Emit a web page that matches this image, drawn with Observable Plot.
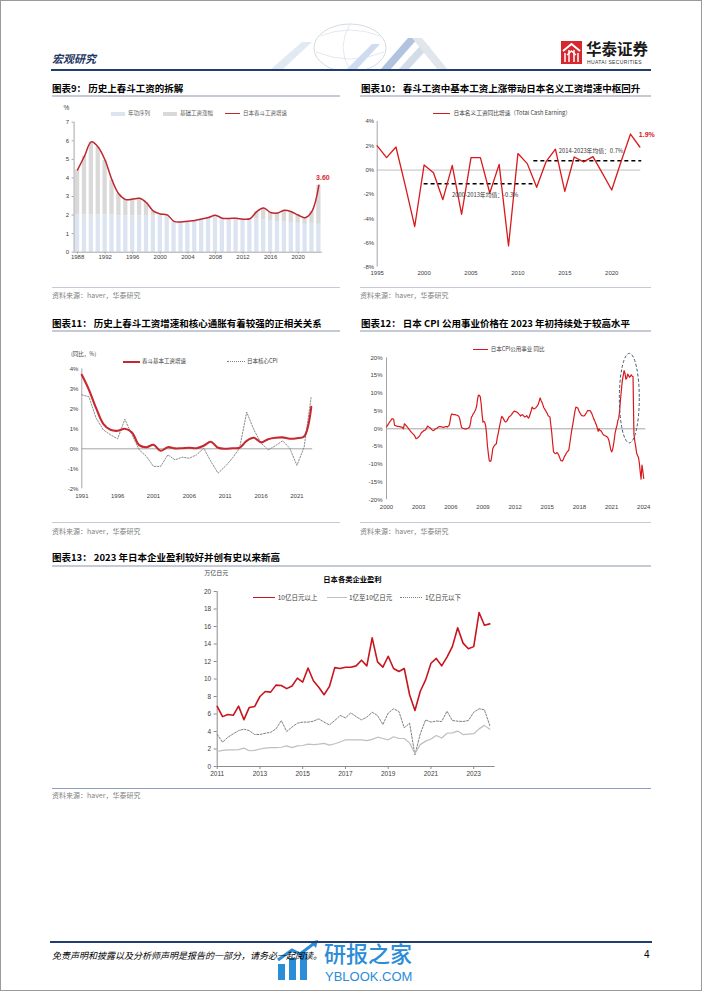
<!DOCTYPE html>
<html><head><meta charset="utf-8">
<script src="https://cdn.jsdelivr.net/npm/d3@7"></script>
<script src="https://cdn.jsdelivr.net/npm/@observablehq/plot@0.6"></script>
<style>
html,body{margin:0;padding:0;background:#fff}
#page{position:relative;width:702px;height:991px;overflow:hidden;font-family:"Noto Sans CJK SC","Noto Sans",sans-serif;color:#000;background:#fff}
#frame{position:absolute;left:0;top:0;width:700px;height:989px;border:1px solid #9a9a9a}
.t{position:absolute;white-space:nowrap;line-height:1}
.b{position:absolute}
</style></head><body><div id="page"><div id="frame"></div>
<svg class="b" style="left:262px;top:22px" width="200" height="48">
  <ellipse cx="88" cy="26" rx="36" ry="24" fill="none" stroke="#d5dbe3" stroke-width="1"/>
  <path d="M58 14 Q88 2 118 14 M54 30 Q88 44 122 30 M88 2 Q74 26 88 48" fill="none" stroke="#dde2e8" stroke-width="0.8"/>
  <polygon points="8,48 40,20 50,20 20,48" fill="#e3e9f3"/>
  <polygon points="84,48 110,22 118,22 94,48" fill="#cfdcf0"/>
  <polygon points="118,48 146,16 156,16 128,48" fill="#9fb4d8" opacity="0.8"/>
  <polygon points="136,48 158,24 168,24 146,48" fill="#c9d3e2" opacity="0.8"/>
  <polygon points="150,16 160,16 186,48 176,48" fill="#e1e5ec"/>
</svg>
<svg class="b" style="left:561px;top:41px" width="21" height="23">
  <rect width="21" height="23" fill="#d7282f"/>
  <path d="M2 10 L10.5 3 L19 10" stroke="#fff" fill="none" stroke-width="2"/>
  <path d="M4 21 V12 M8 21 V9 M13 21 V9 M17 21 V12" stroke="#fff" stroke-width="1.5"/>
  <path d="M6 14 L10.5 10 L15 14" stroke="#fff" fill="none" stroke-width="1.4"/>
</svg>
<svg class="b" style="left:276px;top:940px" width="46" height="42">
  <rect x="2" y="24" width="7" height="16" fill="#2b8cd8"/>
  <rect x="13" y="18" width="7" height="22" fill="#2b8cd8"/>
  <rect x="24" y="12" width="7" height="28" fill="#2b8cd8"/>
  <path d="M2 20 L16 10 L24 14 L40 2" stroke="#2b8cd8" stroke-width="3" fill="none"/>
  <polygon points="42,0 34,2 40,8" fill="#2b8cd8"/>
</svg>
</div>
<script>
// ---------------- DATA ----------------
// Chart 9: 春斗工资拆解
const springYears = [1988,1989,1990,1991,1992,1993,1994,1995,1996,1997,1998,1999,2000,2001,2002,2003,2004,2005,2006,2007,2008,2009,2010,2011,2012,2013,2014,2015,2016,2017,2018,2019,2020,2021,2022,2023];
const springTotal = [4.43,5.17,5.94,5.65,4.95,3.89,3.13,2.83,2.86,2.90,2.66,2.21,2.06,2.01,1.66,1.63,1.67,1.71,1.79,1.87,1.99,1.83,1.82,1.83,1.78,1.80,2.19,2.38,2.14,2.11,2.26,2.18,2.00,1.86,2.20,3.60];
const springSeniority = [2.0,2.0,2.0,2.0,2.0,2.0,1.95,1.95,1.95,1.95,1.95,1.95,1.95,1.9,1.66,1.63,1.67,1.71,1.79,1.87,1.95,1.83,1.82,1.83,1.78,1.80,1.8,1.75,1.7,1.65,1.65,1.6,1.55,1.5,1.55,1.5];
const springYTicks = [0,1,2,3,4,5,6,7];
const springXTicks = [1988,1992,1996,2000,2004,2008,2012,2016,2020];

// Chart 10: 名义工资同比
const tceYears = [1995,1996,1997,1998,1999,2000,2001,2002,2003,2004,2005,2006,2007,2008,2009,2010,2011,2012,2013,2014,2015,2016,2017,2018,2019,2020,2021,2022,2023];
const tceValues = [2.0,1.03,1.9,-1.3,-4.65,0.42,-0.22,-2.44,0.39,-3.64,1.03,1.03,-1.89,0.47,-6.25,1.36,0.53,-1.42,0.69,1.72,-1.75,1.08,0.67,1.11,-0.25,-1.64,0.7,2.97,1.9];
const avgText = ["2000-2013年均值：-0.3%","2014-2023年均值：0.7%"];
const avgStart = [2000, 2011.7];
const avgEnd = [2011.6, 2023.2];
const avgValue = [-1.12, 0.77];
const tceYTicks = [-8,-6,-4,-2,0,2,4];
const tceXTicks = [1995,2000,2005,2010,2015,2020];

// Chart 11: 春斗基本工资 vs 核心CPI
const cpiYears = [1991,1992,1993,1994,1995,1996,1997,1998,1999,2000,2001,2002,2003,2004,2005,2006,2007,2008,2009,2010,2011,2012,2013,2014,2015,2016,2017,2018,2019,2020,2021,2022,2023];
const baseUp = [3.7,2.95,2.03,1.25,0.95,0.9,1.0,0.82,0.18,0.08,0.2,-0.1,0.08,0.02,0.03,0.05,0.03,0.15,0.35,0.05,0.0,0.03,0.05,0.4,0.55,0.32,0.48,0.55,0.57,0.5,0.53,0.62,2.1];
const coreCPI = [2.7,2.6,1.53,0.95,0.7,0.5,1.48,0.7,-0.05,-0.38,-0.88,-0.88,-0.3,-0.55,-0.42,-0.47,-0.3,0.03,-0.63,-1.22,-0.88,-0.47,0.03,1.83,0.95,0.28,-0.05,0.15,0.4,0.03,-0.83,0.08,2.62];
const cpiYTicks = [-2,-1,0,1,2,3,4];
const cpiXTicks = [1991,1996,2001,2006,2011,2016,2021];

// Chart 12: CPI 公用事业 同比 (monthly, rows = years 2000..2024)
const utilYears = [2000,2001,2002,2003,2004,2005,2006,2007,2008,2009,2010,2011,2012,2013,2014,2015,2016,2017,2018,2019,2020,2021,2022,2023,2024];
const utilMonthly = [
[0.5,0.9,1.3,1.7,2.1,2.4,2.8,2.8,2.7,1.0,0.9,0.8],
[0.7,0.7,0.6,0.6,0.5,0.5,0.3,0.0,1.4,1.2,0.9,0.6],
[0.3,-0.1,-0.4,-0.7,-1.0,-1.3,-1.5,-1.8,-2.2,-2.8,-2.7,-2.5],
[-2.3,-2.0,-1.6,-1.1,-0.9,-0.7,-0.5,-0.4,-0.2,0.3,0.75,0.6],
[0.4,0.2,0.0,-0.3,-0.5,-0.4,-0.2,0.0,0.1,0.3,0.5,0.6],
[0.65,0.6,0.5,0.5,0.4,0.5,0.6,0.65,0.5,0.7,0.9,1.9],
[3.5,4.2,4.1,4.0,4.0,4.0,3.9,3.8,3.7,3.5,2.8,1.5],
[0.4,0.2,0.1,0.0,0.0,0.0,0.0,0.1,0.3,0.5,1.5,3.3],
[3.6,4.2,4.5,5.0,5.6,6.5,8.5,9.5,9.4,9.0,7.0,4.0],
[1.9,2.1,1.8,0.9,-1.5,-4.7,-7.0,-8.9,-9.2,-9.0,-7.5,-5.6],
[-5.0,-4.7,-4.4,-4.2,-2.5,-1.4,0.0,1.2,2.5,3.5,3.2,2.8],
[2.3,1.9,2.0,2.3,2.8,3.3,3.5,3.7,4.0,4.4,4.7,5.0],
[4.9,4.8,4.7,4.5,4.2,4.0,3.6,3.8,4.0,3.8,3.5,3.3],
[3.5,3.7,3.3,3.0,3.5,4.3,5.1,6.1,5.8,5.6,5.7,5.9],
[6.2,6.5,7.0,7.8,8.7,8.0,7.5,6.8,6.0,5.6,5.2,4.7],
[4.3,3.7,3.5,3.3,1.0,-1.1,-4.0,-6.5,-6.8,-7.0,-6.9,-6.7],
[-7.0,-7.5,-8.2,-8.9,-9.0,-9.1,-8.6,-7.9,-7.5,-7.0,-6.6,-6.3],
[-6.1,-4.5,-2.8,-1.0,0.5,1.9,3.5,5.0,6.1,6.0,5.9,5.3],
[4.7,4.3,3.9,3.7,3.6,3.6,3.8,4.2,4.6,5.1,5.1,5.1],
[5.1,4.7,4.2,3.5,2.8,2.3,1.6,1.1,0.2,-0.7,0.0,-0.5],
[-0.5,-0.9,-1.4,-1.7,-1.9,-2.0,-2.1,-2.3,-2.6,-3.3,-4.5,-5.8],
[-6.5,-6.0,-4.7,-3.0,-1.1,0.0,0.9,2.3,3.0,5.1,8.4,11.0],
[13.5,15.0,16.4,15.6,14.0,14.3,15.4,15.0,14.5,14.8,15.2,14.8],
[14.7,-1.5,-3.5,-5.0,-6.8,-7.5,-8.0,-9.5,-12.0,-14.2,-10.2,-12.0],
[-14.0]
];
const utilYTicks = [-20,-15,-10,-5,0,5,10,15,20];
const utilXTicks = [2000,2003,2006,2009,2012,2015,2018,2021,2024];
const highlightX = 2022.7, highlightY = 8.5, highlightRX = 0.93, highlightRY = 12.6;

// Chart 13: 日本各类企业盈利 (万亿日元, quarterly)
const profitQuarters = ["2011Q1","2011Q2","2011Q3","2011Q4","2012Q1","2012Q2","2012Q3","2012Q4","2013Q1","2013Q2","2013Q3","2013Q4","2014Q1","2014Q2","2014Q3","2014Q4","2015Q1","2015Q2","2015Q3","2015Q4","2016Q1","2016Q2","2016Q3","2016Q4","2017Q1","2017Q2","2017Q3","2017Q4","2018Q1","2018Q2","2018Q3","2018Q4","2019Q1","2019Q2","2019Q3","2019Q4","2020Q1","2020Q2","2020Q3","2020Q4","2021Q1","2021Q2","2021Q3","2021Q4","2022Q1","2022Q2","2022Q3","2022Q4","2023Q1","2023Q2","2023Q3","2023Q4"];
const profitLarge = [6.86,5.7,5.95,5.85,6.9,5.35,6.75,6.85,8.0,8.57,8.5,9.3,9.25,8.9,9.2,10.1,9.65,11.25,9.8,9.05,8.2,9.15,11.3,11.2,11.35,11.35,11.5,12.15,11.5,14.7,11.95,11.35,12.6,11.2,10.85,11.2,8.2,6.4,8.6,9.9,11.8,12.35,11.5,12.5,13.7,15.85,14.1,13.45,13.7,17.6,16.15,16.3];
const profitMid = [1.71,1.85,1.9,1.9,1.93,2.1,1.8,1.85,2.0,2.1,2.15,2.15,2.2,2.35,2.15,2.35,2.4,2.55,2.5,2.55,2.65,2.45,2.6,2.8,3.05,3.05,3.05,3.05,2.95,3.1,3.35,3.2,3.05,3.4,3.2,3.2,2.7,1.5,2.5,2.9,3.15,3.55,3.25,3.8,3.85,4.05,3.65,3.7,3.75,4.3,4.7,4.25];
const profitSmall = [3.66,2.78,3.35,3.73,4.1,4.27,4.1,3.66,3.66,3.8,3.9,4.3,5.25,4.0,4.5,4.95,5.07,5.07,5.18,5.45,5.07,4.76,5.25,5.83,5.56,6.13,5.7,5.33,5.64,6.2,5.83,4.8,6.1,6.6,6.29,4.42,4.95,1.33,3.73,5.33,5.07,5.2,5.14,6.32,5.25,5.18,5.14,5.25,6.2,6.6,6.48,4.69];
const profitYTicks = [0,2,4,6,8,10,12,14,16,18,20];
const profitXTicks = [2011,2013,2015,2017,2019,2021,2023];

// ---------------- HELPERS ----------------
const page = document.getElementById("page");
function txt(s, x, y, size, opts = {}) {
  const d = document.createElement("div");
  d.className = "t";
  d.textContent = s;
  d.style.left = x + "px";
  d.style.top = (y - size / 2) + "px";
  d.style.fontSize = size + "px";
  Object.assign(d.style, opts);
  page.appendChild(d);
  return d;
}
function bar(x1, x2, y, h, color) {
  const d = document.createElement("div");
  d.className = "b";
  d.style.left = x1 + "px"; d.style.width = (x2 - x1) + "px";
  d.style.top = (y - h / 2) + "px"; d.style.height = h + "px";
  d.style.background = color;
  page.appendChild(d);
}
function lineSw(x1, x2, y, w, color, kind = "solid") {
  const d = document.createElement("div");
  d.className = "b";
  d.style.left = x1 + "px"; d.style.width = (x2 - x1) + "px";
  d.style.top = (y - w / 2) + "px"; d.style.height = "0px";
  d.style.borderTop = `${w}px ${kind} ${color}`;
  page.appendChild(d);
}
function mount(svg, left, top) {
  svg.style.position = "absolute";
  svg.style.left = left + "px";
  svg.style.top = top + "px";
  page.appendChild(svg);
}
const baseStyle = {fontFamily: "'Liberation Sans', Arial, sans-serif", fontSize: "6px", color: "#404040", background: "transparent", overflow: "visible"};
const AX = "#a6a6a6";
const CJK = "'Noto Sans CJK SC', sans-serif";
const SRC = "资料来源：haver，华泰研究";

// ---------------- PAGE TEXT ----------------
txt("宏观研究", 52, 58, 11, {fontWeight: "700", fontStyle: "italic", color: "#1f3864"});
bar(51, 651, 69.5, 2, "#1f3d6e");
txt("华泰证券", 586, 49, 15.5, {fontWeight: "700", color: "#1a1a1a"});
txt("HUATAI SECURITIES", 587, 62, 5, {fontFamily: "'Liberation Sans',Arial,sans-serif", color: "#333", letterSpacing: "0.35px"});

const titleStyle = {fontWeight: "700", color: "#000"};
const TL = "#c4cbd7";
txt("图表9：  历史上春斗工资的拆解", 52, 88.5, 9.5, titleStyle);
bar(52, 340, 96, 1.5, TL);
txt("图表10：  春斗工资中基本工资上涨带动日本名义工资增速中枢回升", 361, 88.5, 9.5, titleStyle);
bar(360, 651, 96, 1.5, TL);
txt("图表11：  历史上春斗工资增速和核心通胀有着较强的正相关关系", 52, 324, 9.5, titleStyle);
bar(52, 340, 331, 1.5, TL);
txt("图表12：  日本 CPI 公用事业价格在 2023 年初持续处于较高水平", 361, 324, 9.5, titleStyle);
bar(360, 651, 331, 1.5, TL);
txt("图表13：  2023 年日本企业盈利较好并创有史以来新高", 52, 558, 9.5, titleStyle);
bar(52, 651, 566, 1.5, TL);

const srcStyle = {color: "#7f7f7f"};
bar(52, 340, 287.5, 1, TL); txt(SRC, 52, 295, 7, srcStyle);
bar(360, 651, 287.5, 1, TL); txt(SRC, 360, 295, 7, srcStyle);
bar(52, 340, 522, 1, TL); txt(SRC, 52, 531, 7, srcStyle);
bar(360, 651, 522, 1, TL); txt(SRC, 360, 531, 7, srcStyle);
bar(52, 651, 788, 1, "#8ea0bf"); txt(SRC, 52, 795, 7, srcStyle);

bar(50, 652, 942, 2, "#1f3d6e");
txt("免责声明和披露以及分析师声明是报告的一部分，请务必一起阅读。", 52, 955, 9, {fontStyle: "italic", color: "#000"});
txt("4", 644, 955, 10, {fontFamily: "'Liberation Sans',Arial,sans-serif"});
txt("研报之家", 324, 952, 22, {color: "#2b8cd8", fontWeight: "500"});
txt("YBLOOK.COM", 325, 976, 13, {color: "#2b8cd8", fontFamily: "'Liberation Sans',Arial,sans-serif"});

// ---------------- CHART 9 ----------------
bar(110.7, 125, 114, 4, "#dce3f1"); txt("年功序列", 128, 114, 5.5, {color: "#595959"});
bar(162.7, 176.7, 114, 4, "#d9d9d9"); txt("基础工资涨幅", 180, 114, 5.5, {color: "#595959"});
lineSw(225, 240, 114, 1.5, "#c0272d"); txt("日本春斗工资增速", 243, 114, 5.5, {color: "#595959"});
txt("%", 63.5, 108, 6.5, {fontFamily: "'Liberation Sans',Arial,sans-serif", color: "#404040"});

const c9 = springYears.map((y, i) => ({year: y, x1: y - 0.31, x2: y + 0.31, zero: 0, sen: springSeniority[i], total: springTotal[i]}));
const p9 = Plot.plot({
  width: 300, height: 180, marginTop: 21.7, marginBottom: 28.3, marginLeft: 33.6, marginRight: 18.2,
  style: baseStyle,
  x: {domain: [1987.5, 2023.5]}, y: {domain: [0, 7]},
  marks: [
    Plot.rectY(c9, {x1: "x1", x2: "x2", y1: "zero", y2: "sen", fill: "#dce3f1"}),
    Plot.rectY(c9, {x1: "x1", x2: "x2", y1: "sen", y2: "total", fill: "#d9d9d9"}),
    Plot.ruleY([0], {stroke: AX}),
    Plot.ruleX([1987.5], {stroke: AX}),
    Plot.line(c9, {x: "year", y: "total", stroke: "#c0272d", strokeWidth: 1.5, curve: "catmull-rom"}),
    Plot.text([c9[c9.length - 1]], {x: "year", y: "total", text: d => d.total.toFixed(2), dx: 4, dy: -8, fill: "#d7282f", fontWeight: "bold", fontSize: 7}),
    Plot.axisY({ticks: springYTicks, tickSize: 2, tickPadding: 3, tickFormat: d => String(d), stroke: AX, fill: "#404040", label: null}),
    Plot.axisX({ticks: springXTicks, tickSize: 2, tickPadding: 1, tickFormat: d => String(d), stroke: AX, fill: "#404040", label: null})
  ]
});
mount(p9, 40, 100);

// ---------------- CHART 10 ----------------
lineSw(433, 450, 113.3, 1.5, "#d7191c");
txt("日本名义工资同比增速（Total Cash Earning）", 453.5, 113.3, 5.7, {color: "#404040"});
const c10 = tceYears.map((y, i) => ({year: y, v: tceValues[i]}));
const c10avg = avgText.map((t, i) => ({x1: avgStart[i], x2: avgEnd[i], y: avgValue[i], t}));
const p10 = Plot.plot({
  width: 320, height: 185, marginTop: 21, marginBottom: 18.3, marginLeft: 26.7, marginRight: 29.7,
  style: baseStyle,
  x: {domain: [1995, 2023.1]}, y: {domain: [-8, 4]},
  marks: [
    Plot.ruleY([0], {stroke: "#bfbfbf"}),
    Plot.ruleX([1995], {stroke: AX}),
    Plot.ruleY(c10avg, {x1: "x1", x2: "x2", y: "y", stroke: "#000", strokeWidth: 1.5, strokeDasharray: "4,3"}),
    Plot.line(c10, {x: "year", y: "v", stroke: "#d7191c", strokeWidth: 1.3}),
    Plot.text([c10avg[0]], {x: "x1", y: "y", text: "t", textAnchor: "start", dx: 28, dy: 11, fontSize: 5.8, fill: "#333", fontFamily: CJK}),
    Plot.text([c10avg[1]], {x: "x1", y: "y", text: "t", textAnchor: "start", dx: 25, dy: -10, fontSize: 5.8, fill: "#333", fontFamily: CJK}),
    Plot.text([c10[c10.length - 1]], {x: "year", y: "v", text: d => d.v.toFixed(1) + "%", textAnchor: "start", dx: -1, dy: -12, fill: "#d7191c", fontWeight: "bold", fontSize: 7}),
    Plot.axisY({ticks: tceYTicks, tickSize: 0, tickPadding: 3, tickFormat: d => d + "%", fill: "#404040", label: null}),
    Plot.axisX({ticks: tceXTicks, tickSize: 0, tickPadding: 4, tickFormat: d => String(d), fill: "#404040", label: null})
  ]
});
mount(p10, 350, 100);

// ---------------- CHART 11 ----------------
txt("(同比，%)", 71, 354.3, 5.5, {color: "#404040"});
lineSw(123, 140, 361.7, 2.2, "#c5282f"); txt("春斗基本工资增速", 142, 361.7, 5.5, {color: "#404040"});
lineSw(226.7, 245, 361.7, 1, "#7f7f7f", "dotted"); txt("日本核心CPI", 247, 361.7, 5.5, {color: "#404040"});
const c11 = cpiYears.map((y, i) => ({year: y, base: baseUp[i], cpi: coreCPI[i]}));
const p11 = Plot.plot({
  width: 300, height: 170, marginTop: 28.3, marginBottom: 21.7, marginLeft: 41.3, marginRight: 27.8,
  style: baseStyle,
  x: {domain: [1991, 2023.2]}, y: {domain: [-2, 4]},
  marks: [
    Plot.ruleY([0], {stroke: AX}),
    Plot.ruleX([1991], {stroke: AX}),
    Plot.line(c11, {x: "year", y: "cpi", stroke: "#7f7f7f", strokeWidth: 0.9, strokeDasharray: "1.5,1.5"}),
    Plot.line(c11, {x: "year", y: "base", stroke: "#c5282f", strokeWidth: 2.1, curve: "catmull-rom"}),
    Plot.axisY({ticks: cpiYTicks, tickSize: 0, tickPadding: 3.5, tickFormat: d => d + "%", fill: "#404040", label: null}),
    Plot.axisX({ticks: cpiXTicks, tickSize: 0, tickPadding: 5, tickFormat: d => String(d), fill: "#404040", label: null})
  ]
});
mount(p11, 40, 340);

// ---------------- CHART 12 ----------------
lineSw(473, 488, 349.3, 1.2, "#d7191c"); txt("日本CPI公用事业 同比", 490.7, 349.3, 5.5, {color: "#404040"});
const c12 = utilYears.flatMap((y, i) => utilMonthly[i].map((v, m) => ({t: y + m / 12, v})));
const p12 = Plot.plot({
  width: 320, height: 180, marginTop: 17.3, marginBottom: 20.7, marginLeft: 36, marginRight: 24.6,
  style: baseStyle,
  x: {domain: [2000, 2024.2]}, y: {domain: [-20, 20]},
  marks: [
    Plot.ruleY([0], {stroke: AX}),
    Plot.ruleX([2000], {stroke: AX}),
    Plot.line(c12, {x: "t", y: "v", stroke: "#d7191c", strokeWidth: 1.2}),
    Plot.axisY({ticks: utilYTicks, tickSize: 0, tickPadding: 4, tickFormat: d => d + "%", fill: "#404040", label: null}),
    Plot.axisX({ticks: utilXTicks, tickSize: 0, tickPadding: 5, tickFormat: d => String(d), fill: "#404040", label: null})
  ]
});
{
  const sx = p12.scale("x"), sy = p12.scale("y");
  const cx = sx.apply(highlightX), cy = sy.apply(highlightY);
  const e = document.createElementNS("http://www.w3.org/2000/svg", "ellipse");
  e.setAttribute("cx", cx); e.setAttribute("cy", cy);
  e.setAttribute("rx", Math.abs(sx.apply(highlightX + highlightRX) - cx));
  e.setAttribute("ry", Math.abs(sy.apply(highlightY + highlightRY) - cy));
  e.setAttribute("fill", "none"); e.setAttribute("stroke", "#44546a");
  e.setAttribute("stroke-width", "1"); e.setAttribute("stroke-dasharray", "3,2");
  p12.appendChild(e);
}
mount(p12, 350, 340);

// ---------------- CHART 13 ----------------
txt("万亿日元", 204.3, 573.3, 6, {color: "#404040"});
txt("日本各类企业盈利", 323.3, 579.3, 7.3, {fontWeight: "700", color: "#000"});
lineSw(253, 275, 597.3, 1.6, "#c8151d"); txt("10亿日元以上", 277.7, 597.3, 6.5, {color: "#404040"});
lineSw(326.7, 346.7, 597.3, 1, "#bfbfbf"); txt("1亿至10亿日元", 349, 597.3, 6.5, {color: "#404040"});
lineSw(400, 421.7, 597.3, 1, "#7f7f7f", "dotted"); txt("1亿日元以下", 425, 597.3, 6.5, {color: "#404040"});
const c13 = profitQuarters.map((q, i) => ({t: +q.slice(0, 4) + (+q.slice(5) - 1) / 4, large: profitLarge[i], mid: profitMid[i], small: profitSmall[i]}));
const p13 = Plot.plot({
  width: 360, height: 200, marginTop: 6, marginBottom: 19, marginLeft: 46.7, marginRight: 35.4,
  style: {...baseStyle, fontSize: "6.5px"},
  x: {domain: [2011, 2024]}, y: {domain: [0, 20]},
  marks: [
    Plot.ruleY([0], {stroke: "#8c8c8c"}),
    Plot.ruleX([2011], {stroke: "#8c8c8c"}),
    Plot.line(c13, {x: "t", y: "small", stroke: "#7f7f7f", strokeWidth: 1, strokeDasharray: "2,1.5"}),
    Plot.line(c13, {x: "t", y: "mid", stroke: "#bfbfbf", strokeWidth: 1.2}),
    Plot.line(c13, {x: "t", y: "large", stroke: "#c8151d", strokeWidth: 1.6}),
    Plot.axisY({ticks: profitYTicks, tickSize: 3, tickPadding: 3, stroke: "#8c8c8c", fill: "#404040", label: null}),
    Plot.axisX({ticks: profitXTicks, tickSize: 3, tickPadding: 1.5, tickFormat: d => String(d), stroke: "#8c8c8c", fill: "#404040", label: null})
  ]
});
mount(p13, 170, 585);
</script></body></html>
